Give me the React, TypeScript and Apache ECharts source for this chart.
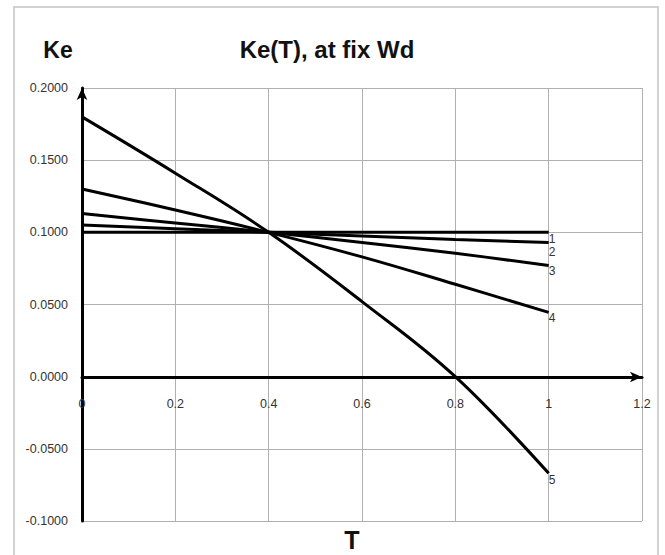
import React, { useEffect, useRef } from "react";
import * as echarts from "echarts";

const tValues = [0, 0.2, 0.4, 0.6, 0.8, 1.0];
const ke1 = [0.1, 0.1, 0.1, 0.1, 0.1, 0.1];
const ke2 = [0.105, 0.1025, 0.1, 0.0975, 0.095, 0.093];
const ke3 = [0.113, 0.1065, 0.1, 0.093, 0.0855, 0.077];
const ke4 = [0.13, 0.1155, 0.1, 0.083, 0.064, 0.0445];
const ke5 = [0.18, 0.141, 0.1, 0.052, 0.0, -0.067];
const seriesNames = ["1", "2", "3", "4", "5"];
const seriesValues = [ke1, ke2, ke3, ke4, ke5];
const labelDrop = [7, 10, 5, 6, 7];

const titleText = "Ke(T), at fix Wd";
const yName = "Ke";
const xName = "T";

const boldFont = "'Liberation Sans', Arial, sans-serif";
const plainFont = "'Liberation Sans', Arial, sans-serif";

export default function App() {
  const ref = useRef<HTMLDivElement>(null);
  useEffect(() => {
    if (!ref.current) return;
    const chart = echarts.init(ref.current, null, { renderer: "svg" });
    const series = seriesValues.map((vals, i) => ({
      type: "line",
      name: seriesNames[i],
      data: tValues.map((t, j) => [t, vals[j]]),
      showSymbol: false,
      symbol: "none",
      smooth: 0.4,
      itemStyle: { color: "#000" },
      lineStyle: { color: "#000", width: 3 },
      endLabel: {
        show: true,
        formatter: seriesNames[i],
        color: "#333",
        textBorderWidth: 0,
        fontSize: 12,
        fontFamily: plainFont,
        offset: [-8, labelDrop[i]],
      },
      z: 3,
    }));
    chart.setOption({
      animation: false,
      backgroundColor: "#fff",
      title: {
        text: titleText,
        left: 322,
        top: 32,
        textAlign: "center",
        textStyle: {
          fontFamily: boldFont,
          fontWeight: "bold",
          fontSize: 24,
          color: "#111",
        },
      },
      graphic: [
        {
          type: "rect",
          shape: { x: 14, y: 7, width: 644, height: 560 },
          style: { fill: "none", stroke: "#c4c4c4", lineWidth: 1.5 },
          z: -1,
        },
        {
          type: "text",
          x: 58,
          y: 50,
          style: {
            text: yName,
            fontFamily: boldFont,
            fontWeight: "bold",
            fontSize: 23,
            fill: "#111",
            textAlign: "center",
            textVerticalAlign: "middle",
          },
        },
        {
          type: "text",
          x: 352,
          y: 540,
          style: {
            text: xName,
            fontFamily: boldFont,
            fontWeight: "bold",
            fontSize: 25,
            fill: "#111",
            textAlign: "center",
            textVerticalAlign: "middle",
          },
        },
      ],
      grid: { left: 82, right: 23, top: 88, bottom: 34, containLabel: false },
      xAxis: {
        type: "value",
        min: 0,
        max: 1.2,
        interval: 0.2,
        position: "bottom",
        offset: -144,
        axisLine: {
          show: true,
          onZero: false,
          symbol: ["none", "arrow"],
          symbolSize: [8, 12],
          lineStyle: { color: "#000", width: 3 },
        },
        axisTick: { show: false },
        axisLabel: {
          margin: 20,
          fontSize: 12.5,
          fontFamily: plainFont,
          color: "#333",
          formatter: (v: number) => String(Math.round(v * 10) / 10),
        },
        splitLine: { show: true, lineStyle: { color: "#b0b0b0", width: 1 } },
      },
      yAxis: {
        type: "value",
        min: -0.1,
        max: 0.2,
        interval: 0.05,
        axisLine: {
          show: true,
          onZero: false,
          symbol: ["none", "arrow"],
          symbolSize: [8, 12],
          lineStyle: { color: "#000", width: 3 },
        },
        axisTick: { show: false },
        axisLabel: {
          margin: 14,
          fontSize: 12.5,
          fontFamily: plainFont,
          color: "#333",
          formatter: (v: number) => v.toFixed(4),
        },
        splitLine: { show: true, lineStyle: { color: "#b0b0b0", width: 1 } },
      },
      series,
    });
    return () => chart.dispose();
  }, []);
  return (
    <div
      ref={ref}
      style={{ position: "fixed", left: 0, top: 0, width: 665, height: 555 }}
    />
  );
}
